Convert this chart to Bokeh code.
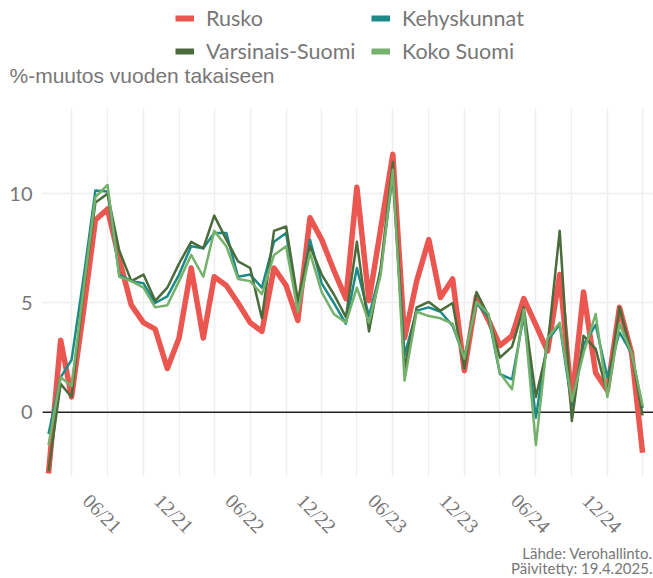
import math
import pandas as pd
from bokeh.plotting import figure
from bokeh.layouts import column
from bokeh.models import (Range1d, FixedTicker, Span, Legend, LegendItem, Label,
                          LabelSet, ColumnDataSource)
from bokeh.embed import file_html
from bokeh.resources import INLINE

# ---------------- data ----------------
months = pd.date_range("2021-01-01", periods=51, freq="MS")

rusko = [-2.8, 3.3, 0.7, 4.7, 8.8, 9.3, 7.0, 4.9, 4.1, 3.8,
         2.0, 3.4, 6.6, 3.4, 6.2, 5.8, 5.0, 4.1, 3.7, 6.6,
         5.8, 4.2, 8.9, 7.9, 6.5, 5.2, 10.3, 5.1, 8.4, 11.8,
         3.4, 6.0, 7.9, 5.25, 6.1, 1.9, 5.3, 4.2, 3.05, 3.5,
         5.2, 4.0, 2.8, 6.3, 0.5, 5.5, 1.8, 1.0, 4.8, 2.7, -1.85]

kehyskunnat = [-1.0, 1.6, 2.4, 6.2, 10.15, 10.1, 6.3, 6.0, 5.9, 5.0,
               5.3, 6.3, 7.6, 7.5, 8.2, 8.2, 6.2, 6.3, 5.7, 7.8,
               8.2, 4.7, 7.9, 5.9, 5.0, 4.05, 6.6, 4.4, 6.5, 10.9,
               2.6, 4.65, 4.8, 4.6, 3.95, 2.5, 5.0, 4.35, 1.75, 1.5,
               4.4, -0.25, 3.3, 4.0, 0.3, 3.1, 4.0, 1.6, 3.65, 2.7, 0.2]

varsinais_suomi = [-2.7, 1.3, 0.7, 5.6, 9.6, 10.0, 7.4, 6.0, 6.3, 5.1,
                   5.7, 6.8, 7.8, 7.5, 9.0, 7.9, 6.9, 6.6, 4.3, 8.3,
                   8.5, 5.1, 7.6, 6.3, 5.4, 4.35, 7.8, 3.7, 6.6, 11.45,
                   2.0, 4.8, 5.05, 4.65, 5.0, 2.0, 5.5, 4.4, 2.5, 3.0,
                   4.8, 0.7, 3.0, 8.3, -0.4, 3.5, 2.9, 0.85, 4.8, 2.7, -0.15]

koko_suomi = [-1.5, 1.6, 1.2, 5.7, 9.85, 10.4, 6.2, 6.0, 5.7, 4.8,
              4.9, 6.0, 7.2, 6.2, 8.3, 7.6, 6.1, 6.0, 5.4, 7.2,
              7.6, 4.6, 7.3, 5.5, 4.5, 4.1, 5.7, 4.1, 6.3, 11.1,
              1.45, 4.6, 4.4, 4.3, 4.05, 2.45, 5.05, 4.5, 1.8, 1.05,
              4.7, -1.5, 3.4, 4.1, 0.5, 2.7, 4.5, 0.7, 4.05, 2.7, 0.3]

series_names = ["Rusko", "Kehyskunnat", "Varsinais-Suomi", "Koko Suomi"]
series_keys = ["rusko", "kehyskunnat", "varsinais_suomi", "koko_suomi"]
colors = ["#EC5650", "#1B8A89", "#4A6B3A", "#74B16A"]
widths = [5.5, 2.5, 2.5, 2.5]

y_ticks = [0, 5, 10]
x_tick_dates = pd.to_datetime(["2021-06-01", "2021-12-01", "2022-06-01", "2022-12-01",
                               "2023-06-01", "2023-12-01", "2024-06-01", "2024-12-01"])
x_tick_labels = ["06/21", "12/21", "06/22", "12/22", "06/23", "12/23", "06/24", "12/24"]
grid_dates = pd.date_range("2021-03-01", "2025-03-01", freq="3MS")

title_text = "%-muutos vuoden takaiseen"
source_lines = ["Lähde: Verohallinto.", "Päivitetty: 19.4.2025."]

# ---------------- helpers ----------------
def ms(d):
    return pd.Timestamp(d).timestamp() * 1000.0

TEXT_GREY = "#777777"
FONT = "Lato"
W = 653
LEFT = 42

src = ColumnDataSource(dict(x=list(months), rusko=rusko, kehyskunnat=kehyskunnat,
                            varsinais_suomi=varsinais_suomi, koko_suomi=koko_suomi))
x_range = Range1d(ms(months[0]) - 15.4 * 86400000, ms(months[-1]) + 28.0 * 86400000)


def bare(fig):
    fig.outline_line_color = None
    fig.background_fill_color = "white"
    fig.border_fill_color = "white"
    return fig


# ---------------- header: legend + title ----------------
head = bare(figure(width=W, height=108, x_range=Range1d(0, W), y_range=Range1d(0, 108),
                   x_axis_location=None, y_axis_location=None, output_backend="svg",
                   toolbar_location=None, min_border=0))
head.xgrid.visible = False
head.ygrid.visible = False
try:
    head.frame_align = False
except Exception:
    pass

items = []
for name, key, c in zip(series_names, series_keys, colors):
    proxy = head.line(x="x", y=key, source=src, line_color=c, line_width=6, visible=False)
    items.append(LegendItem(label=name, renderers=[proxy]))
legend = Legend(items=items, location=(175, 44), orientation="horizontal", ncols=2,
                glyph_width=19, glyph_height=20, label_height=20, label_width=158,
                label_standoff=12, spacing=7, padding=0, margin=0,
                border_line_color=None, background_fill_alpha=0,
                label_text_font=FONT, label_text_font_size="21.5px",
                label_text_color=TEXT_GREY, label_text_baseline="middle")
head.add_layout(legend)
head.add_layout(Label(x=9, y=33, text=title_text, text_font="Liberation Sans",
                      text_font_size="21px", text_color=TEXT_GREY,
                      text_baseline="alphabetic", text_align="left"))

# ---------------- main plot ----------------
p = bare(figure(width=W, height=368, x_axis_type="datetime",
                output_backend="svg", toolbar_location=None,
                x_range=x_range, y_range=Range1d(-2.94, 13.9),
                min_border_left=LEFT, min_border_right=0, min_border_top=0,
                min_border_bottom=0))

p.xgrid.ticker = FixedTicker(ticks=[ms(d) for d in grid_dates])
p.ygrid.ticker = FixedTicker(ticks=y_ticks)
for g in (p.xgrid, p.ygrid):
    g.grid_line_color = "#eeeeee"
    g.grid_line_width = 1.5

p.xaxis.visible = False
p.yaxis.ticker = FixedTicker(ticks=y_ticks)
p.yaxis.axis_line_color = None
p.yaxis.major_tick_line_color = None
p.yaxis.minor_tick_line_color = None
p.yaxis.major_tick_out = 0
p.yaxis.major_tick_in = 0
p.yaxis.major_label_standoff = 10
p.yaxis.major_label_text_font = FONT
p.yaxis.major_label_text_font_size = "20px"
p.yaxis.major_label_text_color = TEXT_GREY

p.add_layout(Span(location=0, dimension="width", line_color="#222222",
                  line_width=1.5, level="underlay"))

for key, c, w in zip(series_keys, colors, widths):
    p.line(x="x", y=key, source=src, line_color=c, line_width=w, line_join="round")

# ---------------- footer: x tick labels + source ----------------
foot = bare(figure(width=W, height=100, x_range=x_range, y_range=Range1d(0, 100),
                   x_axis_location=None, y_axis_location=None, output_backend="svg",
                   toolbar_location=None, min_border_left=LEFT, min_border_right=0,
                   min_border_top=0, min_border_bottom=0))
foot.xgrid.visible = False
foot.ygrid.visible = False

tick_src = ColumnDataSource(dict(x=list(x_tick_dates), text=x_tick_labels))
foot.add_layout(LabelSet(x="x", y=63, text="text", source=tick_src,
                         angle=-math.pi / 4, x_offset=-5, text_align="center",
                         text_baseline="middle", text_font=FONT, text_font_size="20px",
                         text_color=TEXT_GREY))
for i, line in enumerate(source_lines):
    foot.add_layout(Label(x=610, y=24 - 15 * i, x_units="screen", text=line,
                          text_font=FONT, text_font_size="15px", text_color=TEXT_GREY,
                          text_baseline="alphabetic", text_align="right"))

layout = column(head, p, foot, spacing=0)
open("out.html", "w").write(file_html(layout, INLINE))
